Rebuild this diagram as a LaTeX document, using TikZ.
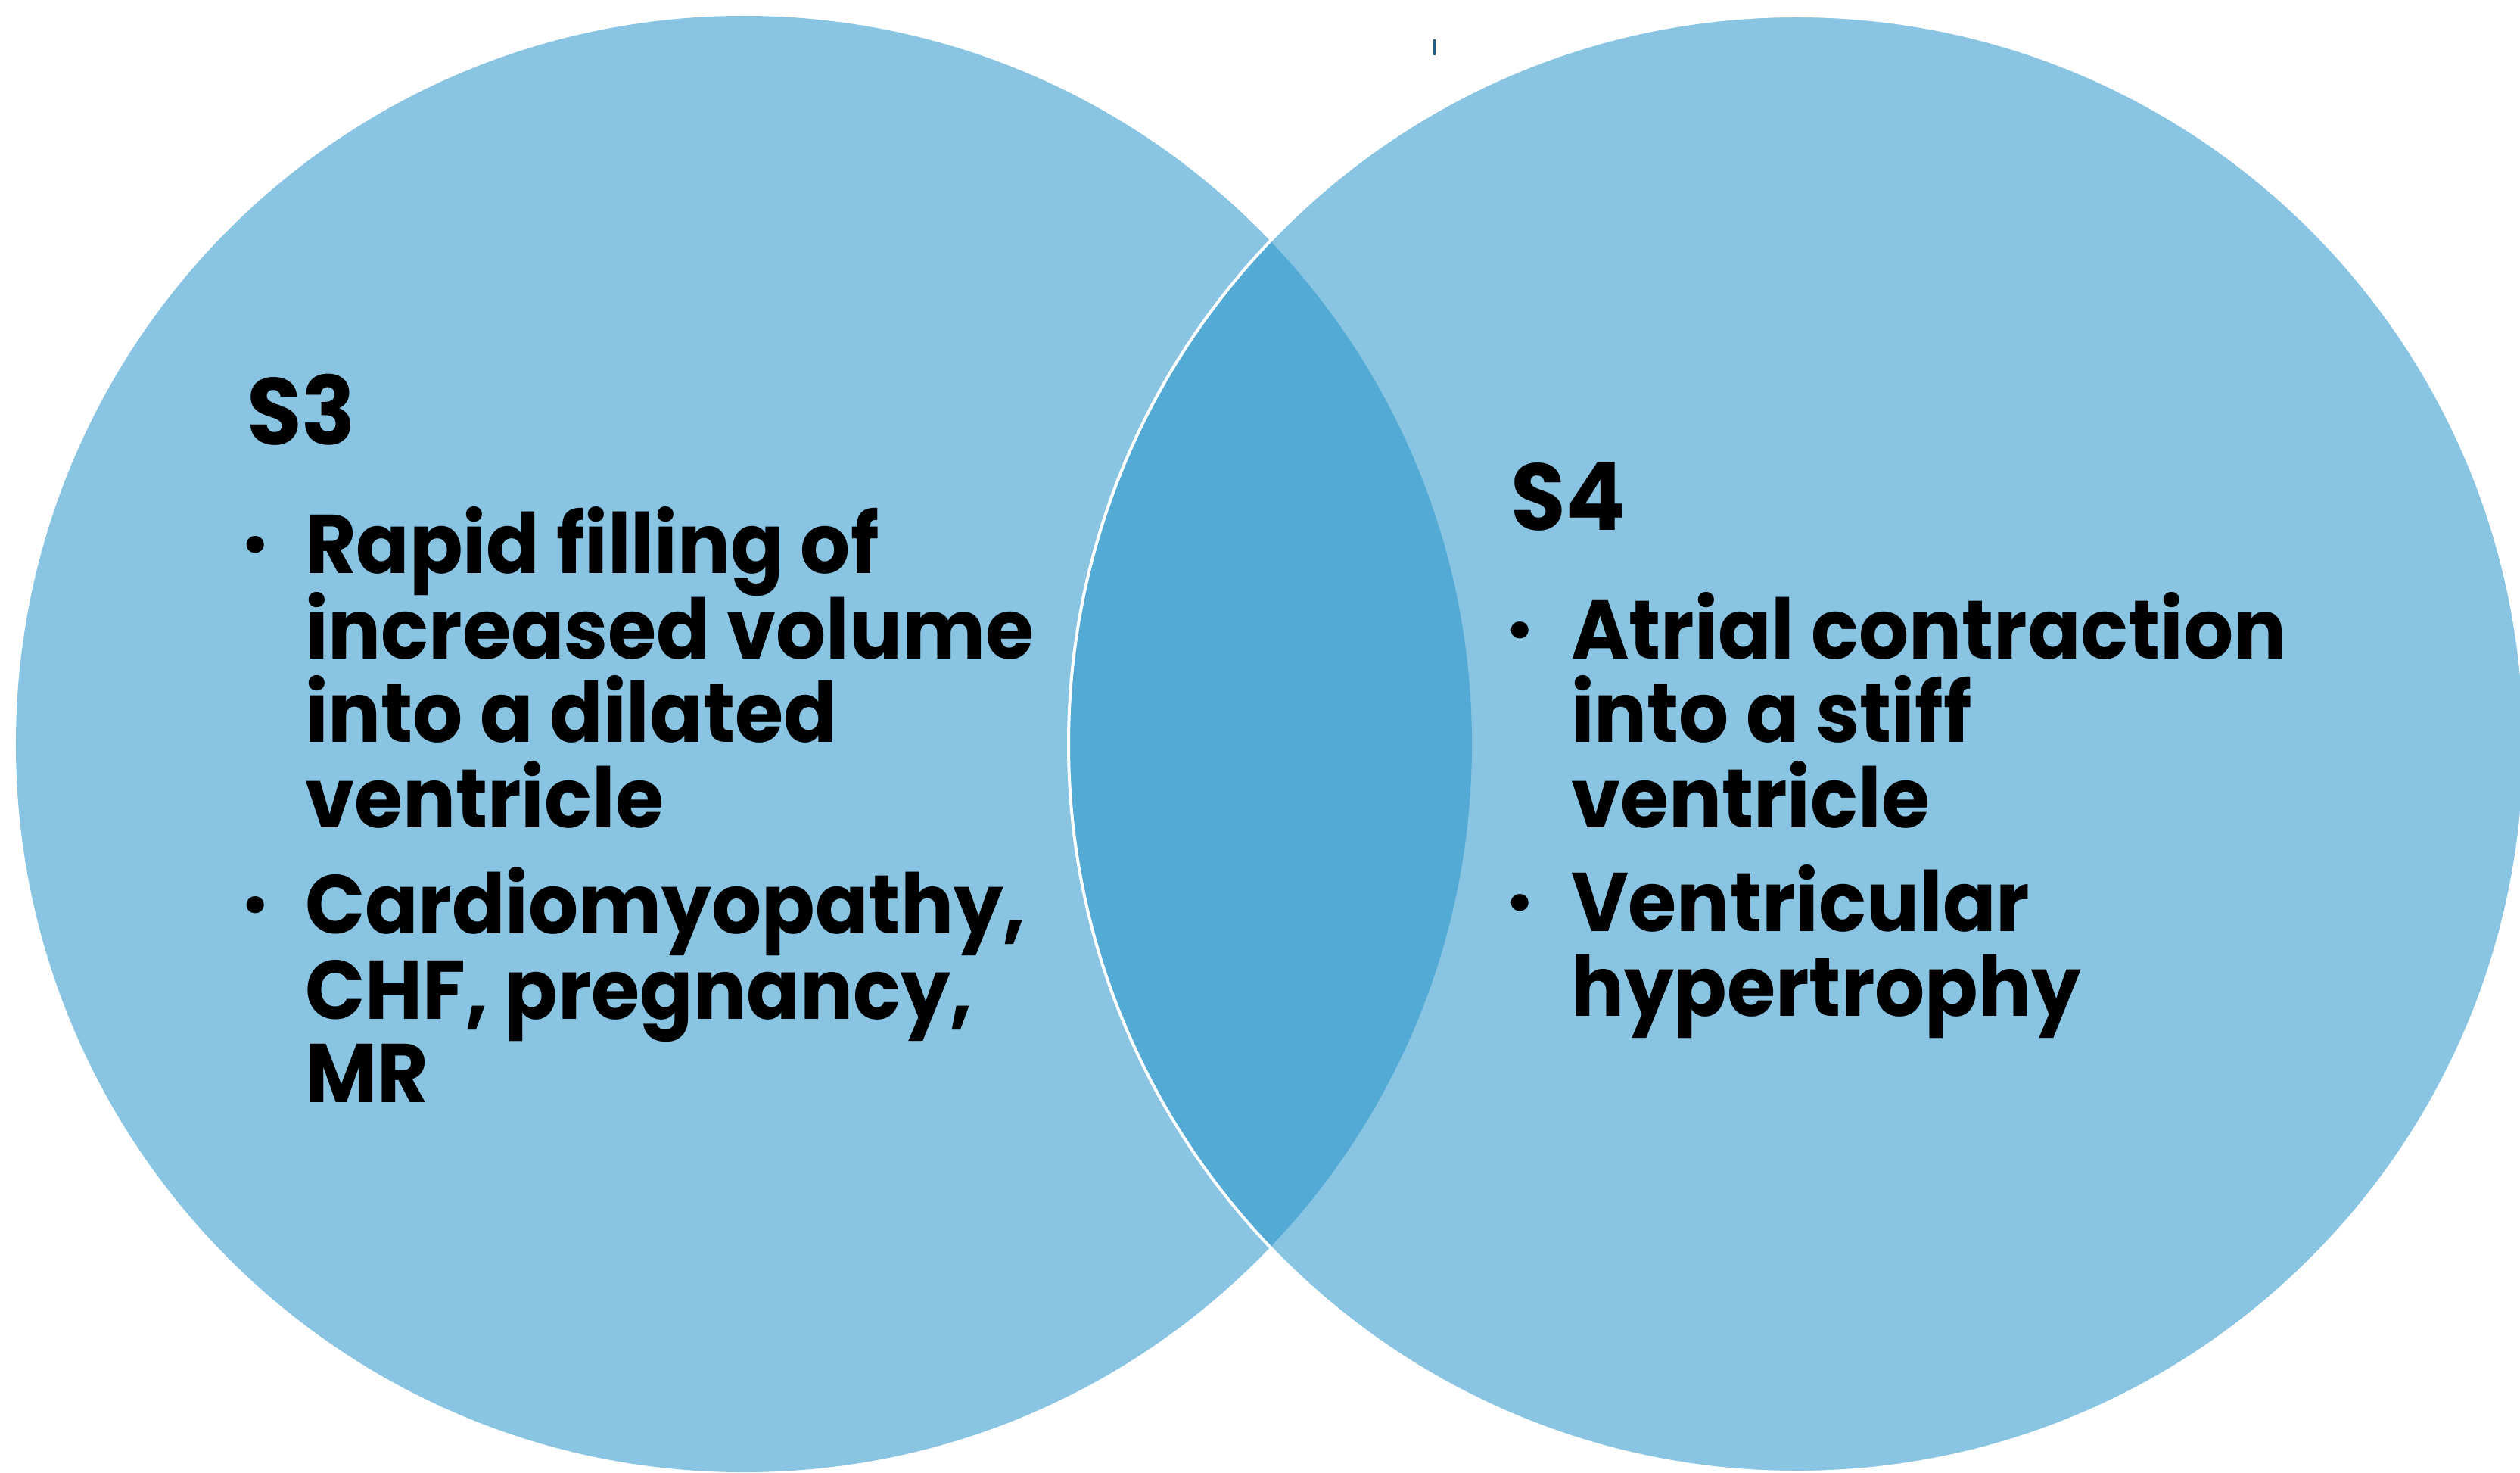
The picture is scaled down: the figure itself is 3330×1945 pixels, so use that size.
\documentclass[tikz,border=0pt]{standalone}
\usepackage{fontspec}
\setmainfont{Poppins}[FakeStretch=0.945]
\definecolor{lightblue}{HTML}{89C5E2}
\definecolor{lensblue}{HTML}{52AAD5}
\definecolor{tickblue}{HTML}{1F5F85}
\begin{document}
\begin{tikzpicture}[x=0.2pt,y=-0.2pt,
  body/.style={anchor=base west, inner sep=0pt, text=black, font=\bfseries\fontsize{22}{24}\selectfont},
  title/.style={anchor=base west, inner sep=0pt, text=black, font=\bfseries\fontsize{25}{28}\selectfont},
  bul/.style={anchor=base, inner sep=0pt, text=black, font=\bfseries\fontsize{24}{24}\selectfont}]
\useasboundingbox (0,0) rectangle (3330,1945);
% circles
\fill[lightblue] (983,983) circle[radius=192.4pt];
\fill[lightblue] (2374,983) circle[radius=192.4pt];
\begin{scope}
  \clip (983,983) circle[radius=192.4pt];
  \fill[lensblue] (2374,983) circle[radius=192.4pt];
\end{scope}
\draw[white, line width=0.8pt] (2374,983) circle[radius=192.4pt];
% small tick
\coordinate (t1) at (1895,52);
\coordinate (t2) at (1895,73);
\draw[tickblue, line width=0.6pt] (t1) -- (t2);
% left text
\node[title] (s3) at (325,587) {S3};
\node[bul] (b1) at (337,757) {·};
\node[body] (l1) at (402,757) {Rapid filling of};
\node[body] (l2) at (402,870) {increased volume};
\node[body] (l3) at (402,980) {into a dilated};
\node[body] (l4) at (402,1093) {ventricle};
\node[bul] (b2) at (337,1233) {·};
\node[body] (l5) at (402,1233) {Cardiomyopathy,};
\node[body] (l6) at (402,1346) {CHF, pregnancy,};
\node[body] (l7) at (402,1456) {MR};
% right text
\node[title] (s4) at (1995,700) {S4};
\node[bul] (b3) at (2008,870) {·};
\node[body] (r1) at (2075,870) {Atrial contraction};
\node[body] (r2) at (2075,980) {into a stiff};
\node[body] (r3) at (2075,1093) {ventricle};
\node[bul] (b4) at (2008,1230) {·};
\node[body] (r4) at (2075,1230) {Ventricular};
\node[body] (r5) at (2075,1342) {hypertrophy};
\end{tikzpicture}
\end{document}
